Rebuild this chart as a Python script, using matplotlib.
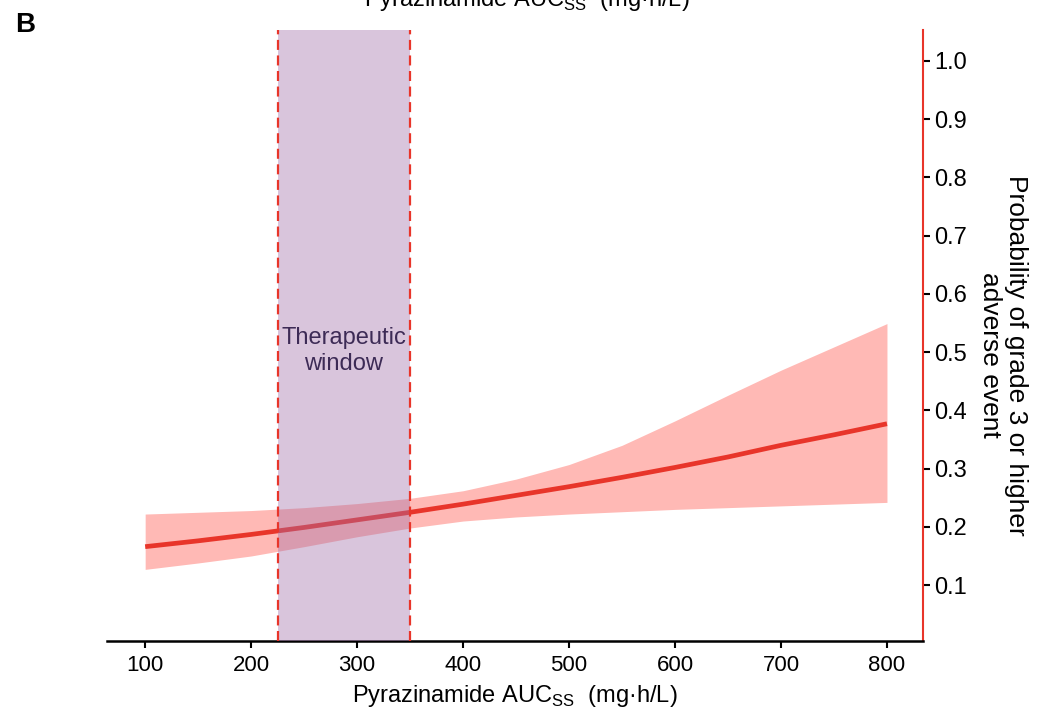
import matplotlib.pyplot as plt

plt.rcParams['font.family'] = ['Liberation Sans', 'DejaVu Sans']

# Dados (AUC em mg·h/L, probabilidade do evento)
auc = [100, 150, 200, 250, 300, 350, 400, 450, 500, 550, 600, 650, 700, 750, 800]
prob = [0.166, 0.176, 0.187, 0.199, 0.212, 0.225, 0.239, 0.254, 0.269, 0.285,
        0.302, 0.320, 0.340, 0.358, 0.377]
prob_upper = [0.222, 0.225, 0.228, 0.233, 0.240, 0.249, 0.262, 0.282, 0.307, 0.340,
              0.382, 0.426, 0.469, 0.509, 0.549]
prob_lower = [0.127, 0.138, 0.150, 0.166, 0.183, 0.198, 0.210, 0.217, 0.222, 0.226,
              0.230, 0.233, 0.236, 0.239, 0.242]

window_min = 225
window_max = 350
x_ticks = [100, 200, 300, 400, 500, 600, 700, 800]
y_ticks = [0.1, 0.2, 0.3, 0.4, 0.5, 0.6, 0.7, 0.8, 0.9, 1.0]

red = '#e8352a'
band = '#ffb9b5'
purple = '#a070a8'

fig = plt.figure(figsize=(10.4, 7.08), dpi=100)
ax = fig.add_axes([0.1029, 0.0946, 0.7846, 0.863])

ax.fill_between(auc, prob_lower, prob_upper, color=band, lw=0, zorder=1)
ax.plot(auc, prob, color=red, lw=3.4, solid_capstyle='butt', zorder=2)

# Janela terapêutica
ax.axvspan(window_min, window_max, color=purple, alpha=0.4, lw=0, zorder=3)
for xv in (window_min, window_max):
    ax.axvline(xv, color=red, lw=1.6, ls=(0, (4.5, 2.5)), zorder=4)
ax.text((window_min + window_max) / 2, 0.502, 'Therapeutic\nwindow', ha='center', va='center',
        fontsize=17, color='#3d2b56', linespacing=1.2, zorder=5)

ax.set_xlim(64, 834)
ax.set_ylim(0.004, 1.053)
ax.set_xticks(x_ticks)
ax.set_yticks(y_ticks)
ax.set_yticklabels([f'{v:.1f}' for v in y_ticks])

ax.spines['left'].set_visible(False)
ax.spines['top'].set_visible(False)
ax.spines['bottom'].set_linewidth(1.8)
ax.spines['right'].set_color(red)
ax.spines['right'].set_linewidth(1.5)
ax.yaxis.tick_right()
ax.tick_params(axis='x', length=5, width=1.5, labelsize=16, pad=5)
ax.tick_params(axis='y', length=5, width=1.5, labelsize=17, pad=3)

ax.set_xlabel(r'Pyrazinamide AUC$_{\mathregular{SS}}$  (mg·h/L)', fontsize=17, labelpad=5)
fig.text(1003 / 1040, 1 - 355 / 708, 'Probability of grade 3 or higher\nadverse event',
         rotation=270, ha='center', va='center', multialignment='center', fontsize=19,
         linespacing=1.1)

fig.text(15 / 1040, 1 - 32 / 708, 'B', fontsize=20, fontweight='bold', ha='left', va='baseline')
# Rótulo do painel de cima, cortado na borda
fig.text(0.507, 1 - 6 / 708, r'Pyrazinamide AUC$_{\mathregular{SS}}$  (mg·h/L)', fontsize=17,
         ha='center', va='baseline')

fig.savefig('out.png', dpi=100)
